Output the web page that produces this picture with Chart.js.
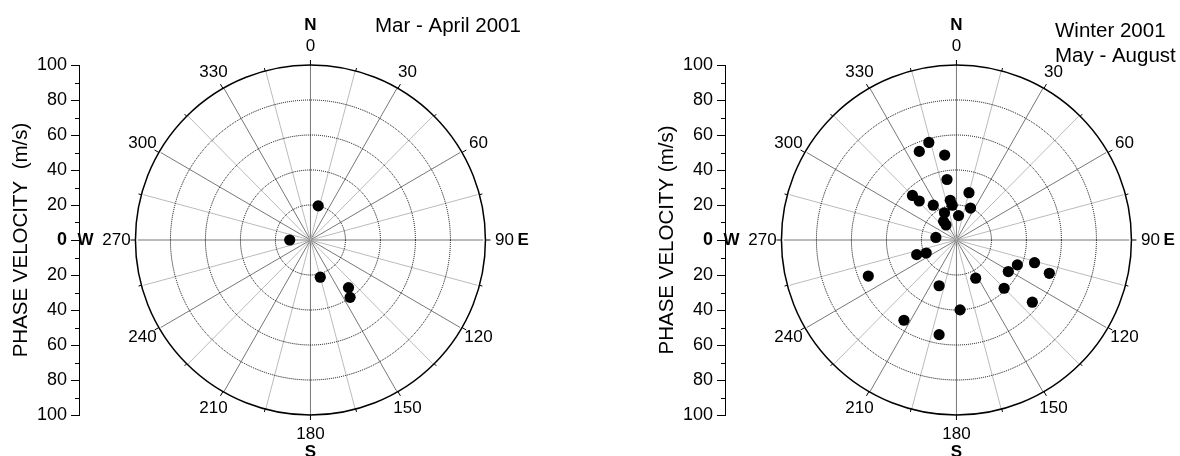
<!DOCTYPE html>
<html>
<head>
<meta charset="utf-8">
<script src="https://cdn.jsdelivr.net/npm/chart.js@4.4.1/dist/chart.umd.min.js"></script>
<style>
    html, body { margin: 0; padding: 0; background: #fff; }
    .panel { position: absolute; top: 0; width: 534px; height: 456px; }
</style>
</head>
<body>
<div class="panel" style="left:0"><canvas id="marAprChart" width="534" height="456"></canvas></div>
<div class="panel" style="left:646px"><canvas id="winterChart" width="534" height="456"></canvas></div>
<script>
// Mar - April 2001: direction (deg from N) and phase velocity (m/s)
const marAprDirection = [13, 270, 165, 141, 145];
const marAprSpeed = [20, 12, 22, 35, 40];

// Winter 2001, May - August
const winterDirection = [344, 337, 352, 351, 15, 315, 316, 351, 353, 326, 24, 336, 5, 325, 325,
    277, 250, 247, 248, 121, 112, 106, 109.5, 153, 201, 135, 129, 177, 213.5, 190.5];
const winterSpeed = [58, 55, 49, 35, 28, 36, 31, 23, 20, 24, 20, 17, 14, 13, 10.5,
    12, 24.5, 19, 55, 35, 38, 47, 57, 24.5, 28, 39, 56.5, 40, 55, 55];

// Polar grid
const angleTicks = [0, 30, 60, 90, 120, 150, 180, 210, 240, 270, 300, 330];
const ringValues = [20, 40, 60, 80];
const radialMax = 100;

const FONT = '"Liberation Sans", Arial, sans-serif';

const polarGridPlugin = {
    id: 'polarGrid',
    beforeDatasetsDraw(chart, args, opts) {
        const ctx = chart.ctx;
        const xs = chart.scales.x;
        const ys = chart.scales.y;
        const cx = xs.getPixelForValue(0);
        const cy = ys.getPixelForValue(0);
        const R = cy - ys.getPixelForValue(radialMax);
        const rad = d => d * Math.PI / 180;

        ctx.save();

        // Spokes every 15 degrees
        ctx.lineWidth = 1;
        for (let d = 0; d < 360; d += 15) {
            ctx.strokeStyle = d % 30 === 0 ? '#777' : '#bbb';
            ctx.beginPath();
            ctx.moveTo(cx, cy);
            ctx.lineTo(xs.getPixelForValue(radialMax * Math.sin(rad(d))),
                ys.getPixelForValue(radialMax * Math.cos(rad(d))));
            ctx.stroke();
        }

        // Dotted rings
        ctx.strokeStyle = '#000';
        ctx.setLineDash([1, 1]);
        ringValues.forEach(v => {
            ctx.beginPath();
            ctx.arc(cx, cy, cy - ys.getPixelForValue(v), 0, Math.PI * 2);
            ctx.stroke();
        });
        ctx.setLineDash([]);

        // Outer circle and its ticks
        ctx.lineWidth = 1.5;
        ctx.beginPath();
        ctx.arc(cx, cy, R, 0, Math.PI * 2);
        ctx.stroke();
        ctx.lineWidth = 1;
        for (let d = 0; d < 360; d += 15) {
            const len = d % 30 === 0 ? 5 : 3;
            ctx.beginPath();
            ctx.moveTo(cx + R * Math.sin(rad(d)), cy - R * Math.cos(rad(d)));
            ctx.lineTo(cx + (R + len) * Math.sin(rad(d)), cy - (R + len) * Math.cos(rad(d)));
            ctx.stroke();
        }

        // Minor ticks of the velocity axis
        for (let v = -90; v <= 90; v += 20) {
            const y = Math.round(ys.getPixelForValue(v)) + 0.5;
            ctx.beginPath();
            ctx.moveTo(ys.right - 4, y);
            ctx.lineTo(ys.right, y);
            ctx.stroke();
        }

        // Angle labels
        ctx.fillStyle = '#000';
        ctx.font = '17px ' + FONT;
        ctx.textAlign = 'center';
        ctx.textBaseline = 'middle';
        angleTicks.forEach(d => {
            const r = R + 19;
            ctx.fillText(String(d), cx + r * Math.sin(rad(d)), cy - r * Math.cos(rad(d)));
        });

        // Compass letters
        ctx.font = 'bold 17px ' + FONT;
        ctx.fillText('N', cx, cy - 215);
        ctx.fillText('S', cx, cy + 212);
        ctx.textAlign = 'right';
        ctx.fillText('W', cx - 217, cy);
        ctx.textAlign = 'left';
        ctx.fillText('E', cx + 207, cy);

        // Period title
        ctx.font = '20.5px ' + FONT;
        ctx.textBaseline = 'alphabetic';
        opts.lines.forEach((line, i) => {
            ctx.fillText(line, opts.x, opts.y + i * 25);
        });

        ctx.restore();
    }
};

function makeChart(canvasId, directions, speeds, axisTitle, titleLines, titleX, titleY) {
    // polar (direction, speed) -> cartesian for the scatter scales
    const points = directions.map((d, i) => ({
        x: speeds[i] * Math.sin(d * Math.PI / 180),
        y: speeds[i] * Math.cos(d * Math.PI / 180)
    }));

    const ctx = document.getElementById(canvasId).getContext('2d');
    return new Chart(ctx, {
        type: 'scatter',
        data: {
            datasets: [{
                data: points,
                backgroundColor: '#000',
                borderWidth: 0,
                pointRadius: 5.6,
                pointHoverRadius: 5.6
            }]
        },
        options: {
            responsive: false,
            animation: false,
            events: [],
            layout: { padding: { left: 0, right: 0, top: 65, bottom: 41 } },
            scales: {
                x: {
                    type: 'linear',
                    display: false,
                    min: -133.9,
                    max: 126.1
                },
                y: {
                    type: 'linear',
                    position: 'left',
                    min: -radialMax,
                    max: radialMax,
                    afterFit(scale) { scale.width = 79; },
                    ticks: {
                        stepSize: 20,
                        padding: 4,
                        color: '#000',
                        callback: v => String(Math.abs(v)),
                        font: c => ({
                            family: FONT,
                            size: 18,
                            weight: c.tick && c.tick.value === 0 ? 'bold' : 'normal'
                        })
                    },
                    grid: {
                        drawOnChartArea: false,
                        drawTicks: true,
                        tickLength: 8,
                        color: '#000'
                    },
                    border: { display: true, color: '#000', width: 1 },
                    title: {
                        display: true,
                        text: axisTitle,
                        color: '#000',
                        font: { family: FONT, size: 20.5 },
                        padding: { top: 9, bottom: 0 }
                    }
                }
            },
            plugins: {
                legend: { display: false },
                tooltip: { enabled: false },
                polarGrid: { lines: titleLines, x: titleX, y: titleY }
            }
        },
        plugins: [polarGridPlugin]
    });
}

makeChart('marAprChart', marAprDirection, marAprSpeed,
    'PHASE VELOCITY  (m/s)', ['Mar - April 2001'], 375, 31.5);
makeChart('winterChart', winterDirection, winterSpeed,
    'PHASE VELOCITY (m/s)', ['Winter 2001', 'May - August'], 409, 36.5);
</script>
</body>
</html>
